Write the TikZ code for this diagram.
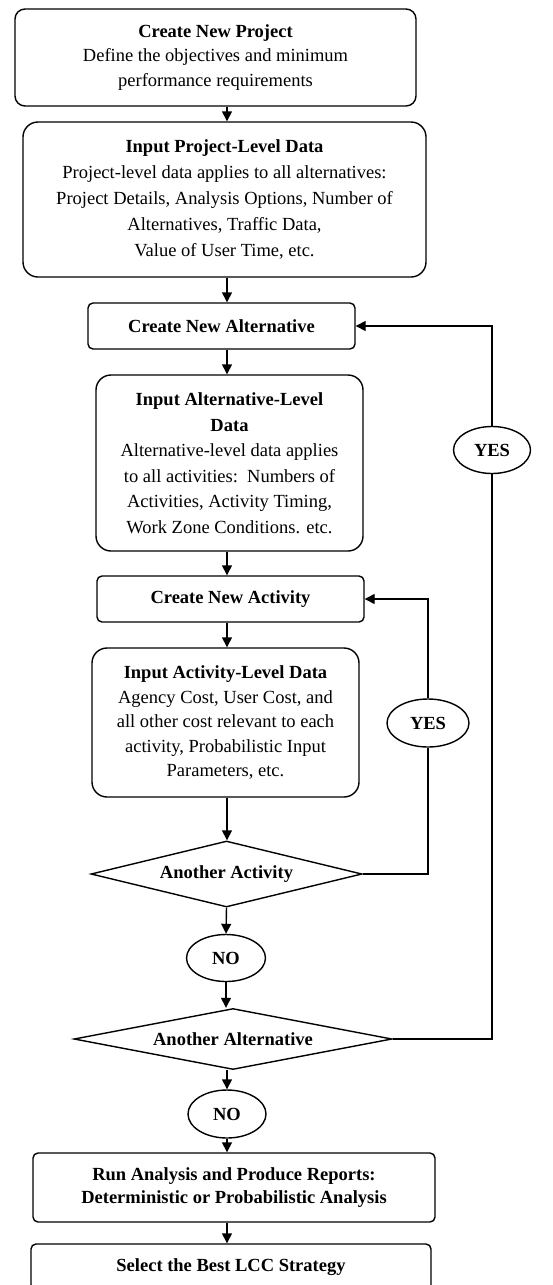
\documentclass[tikz,border=0pt]{standalone}
\usepackage{fontspec}
\setmainfont{Liberation Serif}
\usetikzlibrary{arrows.meta}
\usetikzlibrary{shapes.geometric}
\usetikzlibrary{calc}
\tikzset{
    box/.style={draw,rounded corners=#1,align=center,inner sep=2pt},
    box/.default=5pt,
    decision/.style={draw,diamond,inner sep=0pt,align=center},
    answer/.style={draw,ellipse,inner sep=0pt},
    flow/.style={-{Triangle[width=10pt,length=10pt]}}
}
\newcommand{\txt}{\fontsize{18.5}{24.5}\selectfont}
\newcommand{\btxt}{\fontsize{18.5}{24.5}\selectfont\bfseries}

\begin{document}
\begin{tikzpicture}[x=1pt,y=-1pt,line width=1.4pt,
    every node/.style={font=\txt}]
	\useasboundingbox (0,0) rectangle (552,1285);
	\clip (0,0) rectangle (552,1285);
	\coordinate (spine) at (227,0);

	\node[box=10pt,minimum width=401pt,minimum height=97pt] (proj) at (215.5,57.5)
		{\textbf{Create New Project}\\Define the objectives and minimum\\performance requirements};
	\node[box=15pt,minimum width=403pt,minimum height=155pt,font=\fontsize{18.5}{26}\selectfont] (prjdata) at (224.5,199.5)
		{\textbf{Input Project-Level Data}\\Project-level data applies to all alternatives:\\Project Details, Analysis Options, Number of\\Alternatives, Traffic Data,\\Value of User Time, etc.};
	\node[box,minimum width=267pt,minimum height=46pt,font=\btxt] (newalt) at (221.5,326) {Create New Alternative};
	\node[box=15pt,minimum width=267pt,minimum height=176pt,font=\fontsize{18.5}{25.5}\selectfont] (altdata) at (229.5,463)
		{\textbf{Input Alternative-Level}\\\textbf{Data}\\Alternative-level data applies\\to all activities:\ \ Numbers of\\Activities, Activity Timing,\\Work Zone Conditions. etc.};
	\node[box,minimum width=267pt,minimum height=46pt,font=\btxt] (newact) at (230.5,599) {Create New Activity};
	\node[box=15pt,minimum width=267pt,minimum height=149pt] (actdata) at (225.5,722.5)
		{\textbf{Input Activity-Level Data}\\Agency Cost, User Cost, and\\all other cost relevant to each\\activity, Probabilistic Input\\Parameters, etc.};
	\node[decision,aspect=4.1,minimum width=271pt,minimum height=66pt,font=\btxt] (moreact) at (226.5,874) {Another Activity};
	\node[answer,minimum width=79pt,minimum height=47pt,font=\btxt] (no1) at (226,958) {NO};
	\node[decision,aspect=5.2,minimum width=318pt,minimum height=61pt,font=\btxt] (morealt) at (233,1039) {Another Alternative};
	\node[answer,minimum width=78pt,minimum height=48pt,font=\btxt] (no2) at (227,1114) {NO};
	\node[box,minimum width=402pt,minimum height=69pt,font=\fontsize{18.5}{23.5}\selectfont\bfseries] (run) at (234,1187.5)
		{Run Analysis and Produce Reports:\\Deterministic or Probabilistic Analysis};
	\node[box,minimum width=400pt,minimum height=46pt,font=\btxt] (best) at (231,1267) {Select the Best LCC Strategy};
	\node[answer,minimum width=82pt,minimum height=48pt,font=\btxt] (yes1) at (428,723) {YES};
	\node[answer,minimum width=77pt,minimum height=47pt,font=\btxt] (yes2) at (492,450) {YES};

	% main line
	\draw[flow] (proj.south -| spine) -- (prjdata.north -| spine);
	\draw[flow] (prjdata.south -| spine) -- (newalt.north -| spine);
	\draw[flow] (newalt.south -| spine) -- (altdata.north -| spine);
	\draw[flow] (altdata.south -| spine) -- (newact.north -| spine);
	\draw[flow] (newact.south -| spine) -- (actdata.north -| spine);
	\draw[flow] (actdata.south -| spine) -- (moreact.north -| spine);
	\draw[flow] (moreact.south) -- (no1.north);
	\draw[flow] (no1.south) -- (no1.south |- morealt.north);
	\draw[flow] (morealt.south -| no2) -- (no2.north);
	\draw[flow] (no2.south) -- (no2.south |- run.north);
	\draw[flow] (run.south -| no2) -- (best.north -| no2);

	% loops back
	\draw (moreact.east) -| (yes1.south);
	\draw[flow] (yes1.north) |- (newact.east);
	\draw (morealt.east) -| (yes2.south);
	\draw[flow] (yes2.north) |- (newalt.east);

	\end{tikzpicture}
\end{document}
